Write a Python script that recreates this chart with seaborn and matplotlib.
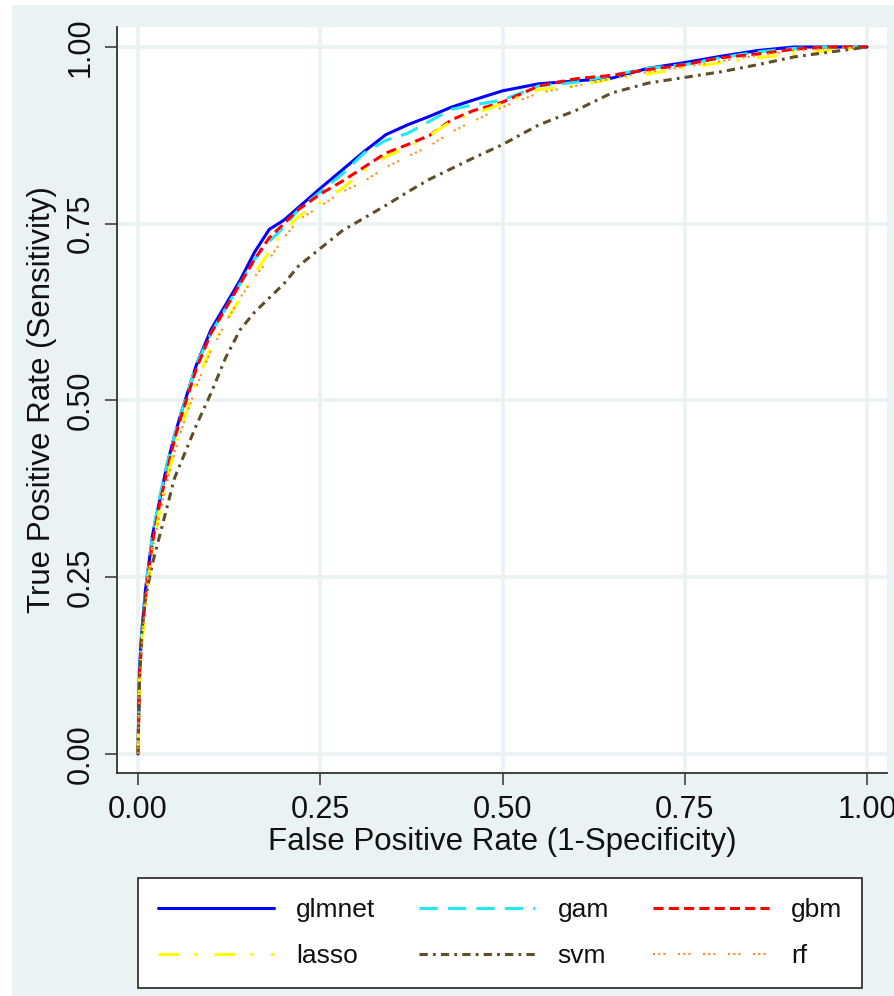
import numpy as np
import pandas as pd
import matplotlib
matplotlib.use("Agg")
import matplotlib.pyplot as plt
from matplotlib.patches import Rectangle
import seaborn as sns

# ROC curves (false positive rate on a common grid)
fpr = [0, 0.002, 0.005, 0.01, 0.02, 0.03, 0.04, 0.05, 0.06, 0.08, 0.10, 0.12,
       0.14, 0.16, 0.18, 0.20, 0.22, 0.25, 0.28, 0.31, 0.34, 0.37, 0.40, 0.43,
       0.46, 0.50, 0.55, 0.60, 0.65, 0.70, 0.75, 0.80, 0.85, 0.90, 0.95, 1.0]

tpr_glmnet = [0, 0.12, 0.17, 0.23, 0.31, 0.36, 0.41, 0.45, 0.485, 0.55, 0.60, 0.635,
              0.67, 0.71, 0.742, 0.755, 0.773, 0.80, 0.826, 0.852, 0.876, 0.89, 0.902, 0.915,
              0.925, 0.938, 0.948, 0.952, 0.956, 0.97, 0.978, 0.987, 0.995, 1.0, 1.0, 1.0]
tpr_gam = [0, 0.11, 0.17, 0.23, 0.31, 0.365, 0.41, 0.45, 0.485, 0.55, 0.595, 0.63,
           0.665, 0.70, 0.725, 0.745, 0.77, 0.795, 0.82, 0.85, 0.868, 0.878, 0.895, 0.912,
           0.918, 0.925, 0.945, 0.95, 0.96, 0.97, 0.975, 0.985, 0.993, 0.998, 1.0, 1.0]
tpr_gbm = [0, 0.11, 0.16, 0.22, 0.30, 0.355, 0.40, 0.445, 0.48, 0.545, 0.595, 0.63,
           0.665, 0.70, 0.73, 0.75, 0.77, 0.792, 0.81, 0.83, 0.85, 0.862, 0.875, 0.897,
           0.91, 0.922, 0.945, 0.955, 0.96, 0.968, 0.975, 0.985, 0.99, 0.997, 1.0, 1.0]
tpr_lasso = [0, 0.10, 0.15, 0.21, 0.29, 0.345, 0.39, 0.43, 0.465, 0.525, 0.575, 0.61,
             0.645, 0.68, 0.71, 0.74, 0.76, 0.78, 0.80, 0.825, 0.845, 0.858, 0.875, 0.895,
             0.905, 0.92, 0.94, 0.945, 0.955, 0.962, 0.97, 0.978, 0.985, 0.99, 0.995, 1.0]
tpr_svm = [0, 0.10, 0.17, 0.22, 0.27, 0.31, 0.35, 0.39, 0.415, 0.465, 0.51, 0.56,
           0.60, 0.625, 0.645, 0.665, 0.69, 0.715, 0.74, 0.758, 0.776, 0.795, 0.813, 0.828,
           0.843, 0.862, 0.89, 0.91, 0.935, 0.949, 0.957, 0.965, 0.975, 0.986, 0.993, 1.0]
tpr_rf = [0, 0.10, 0.15, 0.21, 0.29, 0.34, 0.385, 0.425, 0.46, 0.52, 0.57, 0.61,
          0.645, 0.675, 0.70, 0.73, 0.755, 0.775, 0.795, 0.81, 0.83, 0.845, 0.86, 0.88,
          0.895, 0.915, 0.935, 0.945, 0.955, 0.965, 0.972, 0.98, 0.988, 0.995, 0.998, 1.0]

models = ["glmnet", "gam", "gbm", "lasso", "svm", "rf"]
curves = {"glmnet": tpr_glmnet, "gam": tpr_gam, "gbm": tpr_gbm,
          "lasso": tpr_lasso, "svm": tpr_svm, "rf": tpr_rf}
ticks = [0, 0.25, 0.5, 0.75, 1.0]
tick_labels = ["0.00", "0.25", "0.50", "0.75", "1.00"]

colors = {"glmnet": "#0000ff", "gam": "#22e8f4", "gbm": "#ff0000",
          "lasso": "#ffff00", "svm": "#5f4e26", "rf": "#ff8c1a"}
dashes = {"glmnet": None, "gam": (6.0, 3.3), "gbm": (3.3, 1.7),
          "lasso": (6.7, 5.0, 1.0, 5.7), "svm": (2.7, 1.7, 0.9, 1.7),
          "rf": (1.0, 1.5, 1.0, 1.5, 1.0, 6.0)}
widths = {"glmnet": 2.2, "gam": 2.2, "gbm": 2.2, "lasso": 2.2, "svm": 2.2, "rf": 1.5}

df = pd.concat([pd.DataFrame({"fpr": fpr, "tpr": curves[m], "model": m}) for m in models],
               ignore_index=True)

sns.set_style("white")
plt.rcParams["font.family"] = ["Liberation Sans", "DejaVu Sans"]

bg = "#eaf2f3"
fig = plt.figure(figsize=(8.95, 9.96), dpi=100, facecolor="white")
fig.patches.append(Rectangle((12 / 895, 0), 1, 1 - 5 / 996, transform=fig.transFigure,
                             facecolor=bg, edgecolor="none", zorder=-10))
ax = fig.add_axes([117 / 895, 1 - 773 / 996, 770 / 895, 746 / 996])
ax.set_facecolor("white")

handles = {}
for m in models:
    sns.lineplot(data=df[df["model"] == m], x="fpr", y="tpr", ax=ax, sort=False,
                 estimator=None, color=colors[m], linewidth=widths[m], label=m, legend=False)
    line = ax.lines[-1]
    if dashes[m] is not None:
        line.set_dashes(dashes[m])
    handles[m] = line

ax.set_xlim(-0.0288, 1.0274)
ax.set_ylim(-0.0269, 1.0283)
ax.set_xticks(ticks)
ax.set_xticklabels(tick_labels)
ax.set_yticks(ticks)
ax.set_yticklabels(tick_labels)
plt.setp(ax.get_yticklabels(), rotation=90, va="center")

ax.grid(True, color=bg, linewidth=2.6)
ax.set_axisbelow(True)
for s in ["top", "right"]:
    ax.spines[s].set_visible(False)
for s in ["left", "bottom"]:
    ax.spines[s].set_color("#333333")
    ax.spines[s].set_linewidth(1.3)
ax.tick_params(axis="both", direction="out", length=8.6, width=1.1, color="#333333",
               labelsize=22, labelcolor="#111111", pad=7)
ax.tick_params(axis="x", bottom=True)
ax.tick_params(axis="y", left=True)

ax.set_xlabel("False Positive Rate (1-Specificity)", fontsize=22.5, color="#111111", labelpad=2)
ax.set_ylabel("True Positive Rate (Sensitivity)", fontsize=22.5, color="#111111", labelpad=6)

order = ["glmnet", "lasso", "gam", "svm", "gbm", "rf"]
leg = fig.legend([handles[m] for m in order], order, ncol=3, loc="upper left",
                 bbox_to_anchor=(138 / 895, 1 - 878 / 996), borderaxespad=0,
                 fontsize=19, frameon=True, fancybox=False, handlelength=4.4,
                 handletextpad=0.85, columnspacing=1.65, labelspacing=0.85, borderpad=0.75)
leg.get_frame().set_edgecolor("#333333")
leg.get_frame().set_linewidth(1.3)
leg.get_frame().set_facecolor("white")
leg.get_frame().set_alpha(1)
for t in leg.get_texts():
    t.set_color("#111111")

fig.savefig("out.png", dpi=100, facecolor=fig.get_facecolor())
